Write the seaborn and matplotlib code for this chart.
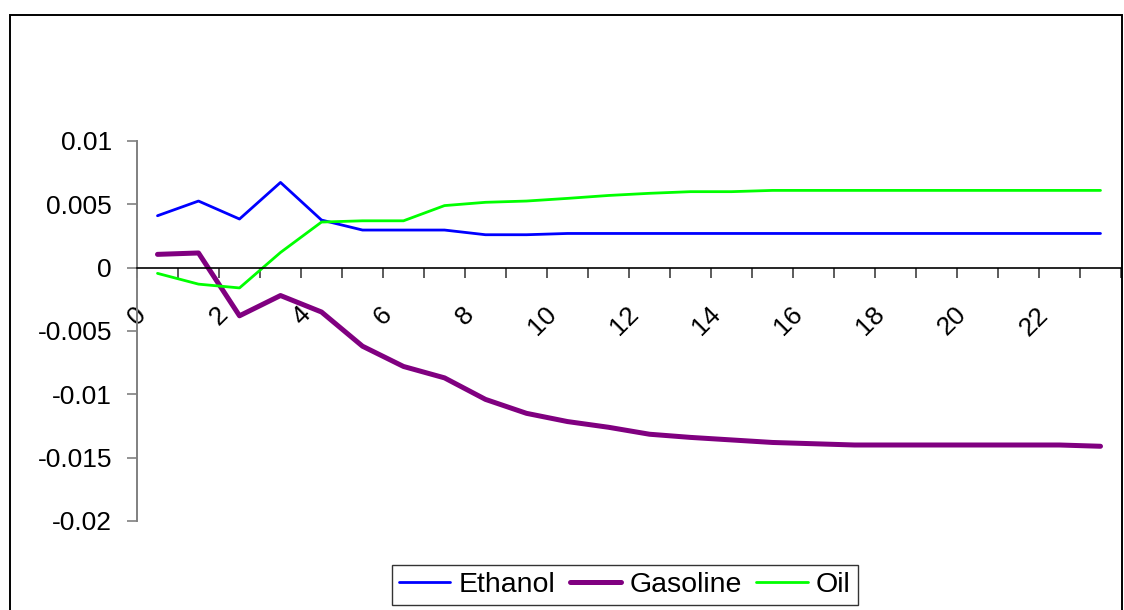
import numpy as np
import pandas as pd
import matplotlib
matplotlib.use("Agg")
import matplotlib.pyplot as plt
import matplotlib.patches as patches
from matplotlib.transforms import ScaledTranslation
import seaborn as sns

# impulse responses (periods 0..23)
periods = list(range(24))
ethanol = [0.0041, 0.00526, 0.00384, 0.00673, 0.00376, 0.00297, 0.00297, 0.00297,
           0.0026, 0.0026, 0.0027, 0.0027, 0.0027, 0.0027, 0.0027, 0.0027,
           0.0027, 0.0027, 0.0027, 0.0027, 0.0027, 0.0027, 0.0027, 0.0027]
gasoline = [0.00105, 0.00116, -0.0038, -0.0022, -0.0035, -0.0062, -0.0078, -0.0087,
            -0.0104, -0.0115, -0.01215, -0.0126, -0.01315, -0.0134, -0.0136, -0.0138,
            -0.0139, -0.0140, -0.0140, -0.0140, -0.0140, -0.0140, -0.0140, -0.0141]
oil = [-0.00045, -0.0013, -0.0016, 0.0012, 0.0036, 0.0037, 0.0037, 0.0049,
       0.00516, 0.00526, 0.00547, 0.0057, 0.00587, 0.0060, 0.0060, 0.0061,
       0.0061, 0.0061, 0.0061, 0.0061, 0.0061, 0.0061, 0.0061, 0.0061]

series_names = ["Ethanol", "Gasoline", "Oil"]
x_tick_labels = [str(p) for p in range(0, 23, 2)]
y_ticks = [0.01, 0.005, 0, -0.005, -0.01, -0.015, -0.02]
y_tick_labels = ["0.01", "0.005", "0", "-0.005", "-0.01", "-0.015", "-0.02"]

df = pd.DataFrame({
    "period": periods * 3,
    "value": ethanol + gasoline + oil,
    "series": np.repeat(series_names, len(periods)),
})

sns.set_style("white")
plt.rcParams["font.family"] = ["Liberation Sans", "DejaVu Sans"]
plt.rcParams["text.color"] = "black"

fig = plt.figure(figsize=(11.24, 6.10), dpi=100)
ax = fig.add_axes([137 / 1124, 89 / 610, 984 / 1124, 380 / 610])

palette = {"Ethanol": "#0000FF", "Gasoline": "#800080", "Oil": "#00FF00"}
widths = {"Ethanol": 2.0, "Gasoline": 3.6, "Oil": 2.0}
sns.lineplot(data=df, x="period", y="value", hue="series", size="series",
             palette=palette, sizes=widths, ax=ax)

ax.set_xlim(-0.5, 23.5)
ax.set_ylim(-0.02, 0.01)
ax.set_xlabel("")
ax.set_ylabel("")

# spines: gray value axis, black category axis crossing at zero
for s in ["top", "right"]:
    ax.spines[s].set_visible(False)
ax.spines["left"].set_color("#808080")
ax.spines["left"].set_linewidth(1.4)
ax.spines["bottom"].set_position(("data", 0))
ax.spines["bottom"].set_color("black")
ax.spines["bottom"].set_linewidth(1.2)

ax.set_yticks(y_ticks)
ax.set_yticklabels(y_tick_labels)
ax.tick_params(axis="y", left=True, direction="out", length=7, width=1.2,
               color="#808080", pad=11, labelsize=19, labelcolor="black")

ax.set_xticks(range(0, 23, 2))
ax.set_xticklabels(x_tick_labels, rotation=45, ha="right", va="center",
                   rotation_mode="anchor")
ax.set_xticks(np.arange(-0.5, 24, 1), minor=True)
ax.tick_params(axis="x", which="major", bottom=True, length=0, pad=31,
               labelsize=19, labelcolor="black")
ax.tick_params(axis="x", which="minor", bottom=True, direction="out", length=7,
               width=1.2, color="#404040")
shift = ScaledTranslation(-15 / 100, 0, fig.dpi_scale_trans)
for lab in ax.get_xticklabels():
    lab.set_transform(lab.get_transform() + shift)

ax.grid(False)

leg = ax.legend(loc="upper center", bbox_to_anchor=(625 / 1124, 1 - 565 / 610),
                bbox_transform=fig.transFigure, ncol=3, frameon=True,
                fancybox=False, fontsize=20.5, handlelength=1.8, handletextpad=0.3,
                columnspacing=0.5, borderpad=0.25, borderaxespad=0)
leg.get_frame().set_edgecolor("black")
leg.get_frame().set_linewidth(1.0)
for t in leg.get_texts():
    t.set_color("black")
for h in leg.get_lines():
    h.set_linewidth(widths.get(h.get_label(), 2.0))

# outer chart-area border
fig.patches.append(patches.Rectangle((10 / 1124, -0.05), 1112 / 1124, (595 / 610) + 0.05,
                                     transform=fig.transFigure, fill=False,
                                     edgecolor="black", linewidth=1.4))

fig.savefig("out.png", dpi=100)
